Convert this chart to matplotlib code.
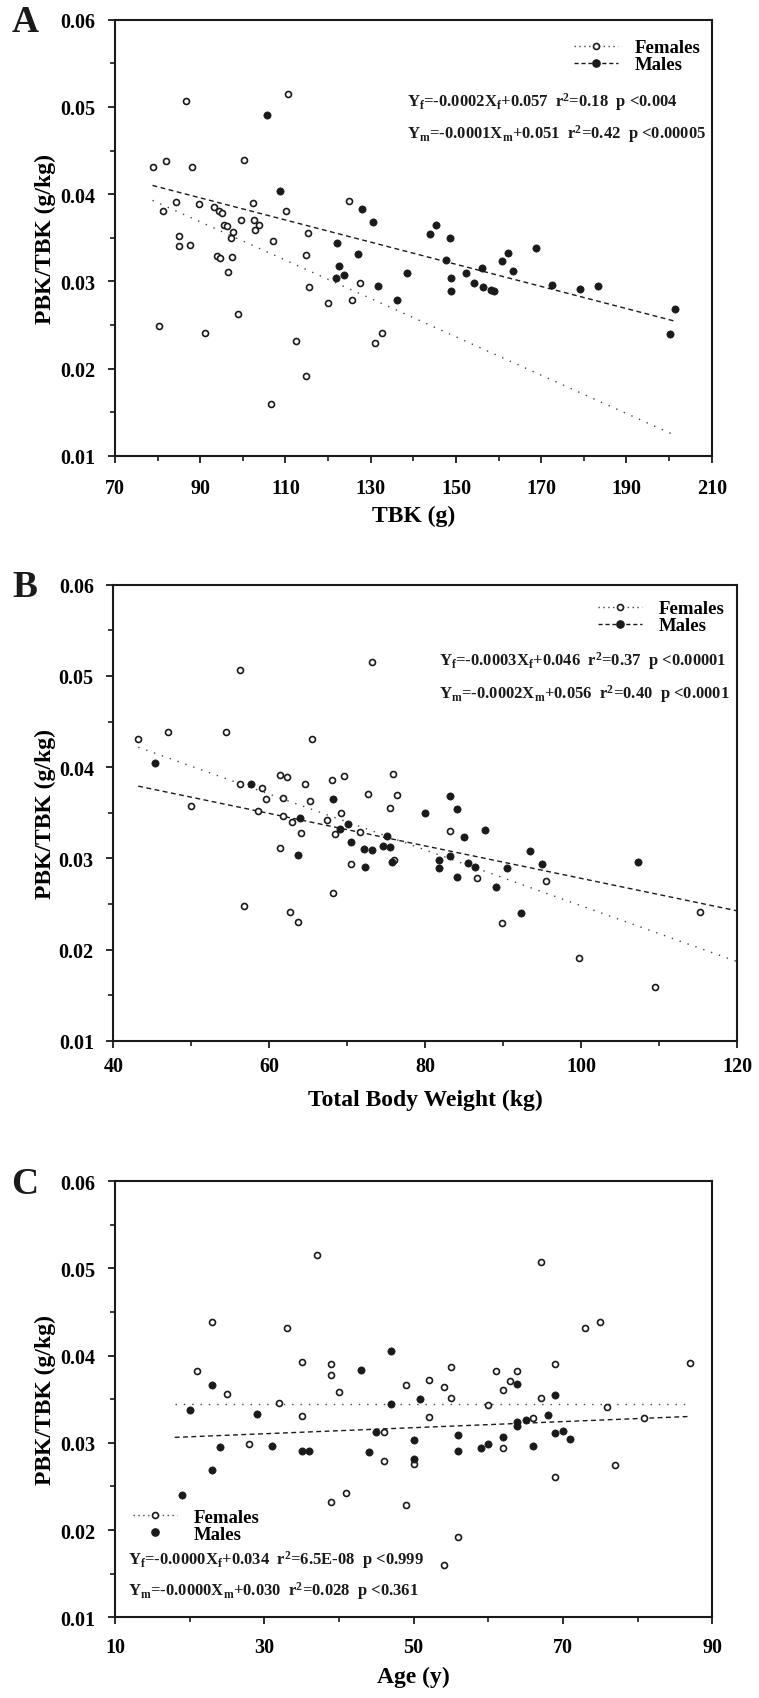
import numpy as np
import matplotlib
matplotlib.use('Agg')
import matplotlib.pyplot as plt
from matplotlib.lines import Line2D
from matplotlib.ticker import MultipleLocator

plt.rcParams['font.family'] = ['Liberation Serif', 'DejaVu Serif']
plt.rcParams['font.weight'] = 'bold'
plt.rcParams['mathtext.fontset'] = 'custom'
plt.rcParams['mathtext.rm'] = 'Liberation Serif:bold'
plt.rcParams['mathtext.bf'] = 'Liberation Serif:bold'
plt.rcParams['mathtext.it'] = 'Liberation Serif:bold'

# ---- panel A: PBK/TBK vs TBK ----
a_fem_x = [78.8, 82.0, 88.0, 86.7, 110.6, 100.2, 84.2, 81.3, 89.7, 93.2, 94.4, 95.2, 102.3, 110.1, 124.9,
           99.6, 95.5, 96.2, 97.8, 97.1, 102.7, 103.9, 102.8, 85.1, 85.1, 87.5, 107.0, 115.3, 94.0, 94.6,
           97.4, 114.9, 96.4, 115.6, 119.9, 125.5, 127.5, 80.3, 91.1, 98.9, 112.5, 131.0, 132.7, 114.7, 106.5]
a_fem_y = [0.0431, 0.0438, 0.0431, 0.0507, 0.0515, 0.0439, 0.0391, 0.0381, 0.0389, 0.0385, 0.0381, 0.0378,
           0.0390, 0.0381, 0.0392, 0.0370, 0.0365, 0.0363, 0.0357, 0.0350, 0.0370, 0.0365, 0.0359, 0.0352,
           0.0340, 0.0342, 0.0346, 0.0355, 0.0329, 0.0327, 0.0328, 0.0330, 0.0311, 0.0294, 0.0275, 0.0278,
           0.0298, 0.0249, 0.0241, 0.0262, 0.0231, 0.0229, 0.0241, 0.0191, 0.0159]
a_male_x = [105.7, 108.7, 128.0, 130.5, 122.1, 126.9, 122.6, 121.8, 123.8, 131.8, 136.1, 145.3, 143.9, 148.7,
            168.7, 162.2, 160.9, 163.4, 147.7, 156.0, 152.4, 148.8, 138.5, 154.2, 156.4, 158.2, 158.9, 148.8,
            172.6, 179.1, 183.3, 201.3, 200.3]
a_male_y = [0.0491, 0.0404, 0.0383, 0.0368, 0.0344, 0.0331, 0.0318, 0.0304, 0.0307, 0.0295, 0.0279, 0.0365,
            0.0354, 0.0350, 0.0338, 0.0333, 0.0323, 0.0312, 0.0325, 0.0315, 0.0309, 0.0304, 0.0310, 0.0298,
            0.0293, 0.0290, 0.0289, 0.0289, 0.0296, 0.0291, 0.0295, 0.0268, 0.0240]
a_fit_fem = [-0.0002198, 0.0566]
a_fit_male = [-0.000127, 0.0510]
a_fit_range = [78.8, 201.3]
a_xticks = [70, 90, 110, 130, 150, 170, 190, 210]
a_eq = [r'Y$_\mathbf{f}$=-0.0002X$_\mathbf{f}$+0.057  r$^\mathbf{2}$=0.18  p <0.004',
        r'Y$_\mathbf{m}$=-0.0001X$_\mathbf{m}$+0.051  r$^\mathbf{2}$=0.42  p <0.00005']

# ---- panel B: PBK/TBK vs total body weight ----
b_fem_x = [56.3, 73.2, 43.2, 47.0, 54.5, 65.5, 61.4, 62.3, 56.3, 59.1, 64.6, 68.1, 69.6, 75.9, 59.6, 61.8,
           65.2, 72.7, 76.4, 75.5, 50.0, 58.6, 61.8, 62.9, 67.4, 69.2, 64.1, 68.5, 71.7, 61.4, 70.5, 76.0,
           68.2, 56.8, 62.7, 63.7, 86.6, 95.5, 89.9, 99.7, 109.5, 115.2, 83.2]
b_fem_y = [0.0507, 0.0515, 0.0431, 0.0438, 0.0438, 0.0431, 0.0391, 0.0389, 0.0381, 0.0377, 0.0381, 0.0386,
           0.0390, 0.0392, 0.0365, 0.0366, 0.0363, 0.0371, 0.0369, 0.0355, 0.0357, 0.0352, 0.0346, 0.0340,
           0.0342, 0.0350, 0.0328, 0.0327, 0.0329, 0.0311, 0.0294, 0.0298, 0.0262, 0.0248, 0.0241, 0.0230,
           0.0278, 0.0275, 0.0229, 0.0191, 0.0159, 0.0241, 0.0330]
b_male_x = [45.4, 57.7, 68.2, 64.0, 70.1, 69.1, 75.1, 70.5, 72.2, 73.2, 74.6, 75.5, 63.7, 72.3, 75.7, 83.2,
            84.1, 80.0, 87.7, 85.0, 93.5, 81.8, 83.2, 81.8, 85.5, 86.4, 84.1, 90.5, 95.0, 89.1, 92.3, 107.3]
b_male_y = [0.0404, 0.0381, 0.0365, 0.0344, 0.0338, 0.0332, 0.0325, 0.0318, 0.0310, 0.0309, 0.0314, 0.0312,
            0.0304, 0.0290, 0.0296, 0.0368, 0.0354, 0.0350, 0.0331, 0.0323, 0.0308, 0.0298, 0.0302, 0.0289,
            0.0295, 0.0290, 0.0279, 0.0289, 0.0294, 0.0268, 0.0240, 0.0296]
b_fit_fem = [-0.000306, 0.0554]
b_fit_male = [-0.000178, 0.0456]
b_fit_range = [43.2, 120.0]
b_xticks = [40, 60, 80, 100, 120]
b_eq = [r'Y$_\mathbf{f}$=-0.0003X$_\mathbf{f}$+0.046  r$^\mathbf{2}$=0.37  p <0.00001',
        r'Y$_\mathbf{m}$=-0.0002X$_\mathbf{m}$+0.056  r$^\mathbf{2}$=0.40  p <0.0001']

# ---- panel C: PBK/TBK vs age ----
c_fem_x = [37.0, 67.0, 23.0, 33.0, 21.0, 35.0, 38.9, 38.9, 40.0, 49.0, 25.0, 32.0, 35.0, 46.0, 27.9, 46.0,
           50.0, 38.9, 41.0, 49.0, 73.0, 75.0, 87.0, 55.0, 68.9, 61.0, 63.9, 52.0, 62.9, 54.0, 62.0, 55.0,
           67.0, 60.0, 75.9, 52.0, 66.0, 80.9, 62.0, 77.0, 68.9, 55.9, 54.0]
c_fem_y = [0.0516, 0.0508, 0.0439, 0.0432, 0.0382, 0.0393, 0.0391, 0.0378, 0.0358, 0.0366, 0.0356, 0.0346,
           0.0331, 0.0312, 0.0299, 0.0279, 0.0276, 0.0232, 0.0242, 0.0229, 0.0432, 0.0439, 0.0392, 0.0387,
           0.0391, 0.0382, 0.0382, 0.0372, 0.0371, 0.0364, 0.0361, 0.0351, 0.0352, 0.0343, 0.0341, 0.0330,
           0.0328, 0.0329, 0.0294, 0.0275, 0.0261, 0.0192, 0.0160]
c_male_x = [47.0, 43.0, 23.0, 47.0, 20.0, 29.0, 45.0, 50.0, 24.0, 31.0, 35.0, 36.0, 44.0, 50.0, 23.0, 19.0,
            63.9, 50.9, 68.9, 68.0, 63.9, 65.0, 63.9, 56.0, 62.0, 68.9, 70.0, 71.0, 60.0, 59.0, 56.0, 66.0]
c_male_y = [0.0405, 0.0383, 0.0366, 0.0344, 0.0338, 0.0333, 0.0312, 0.0303, 0.0295, 0.0296, 0.0291, 0.0291,
            0.0290, 0.0281, 0.0269, 0.0240, 0.0368, 0.0350, 0.0355, 0.0332, 0.0324, 0.0326, 0.0319, 0.0309,
            0.0307, 0.0311, 0.0314, 0.0304, 0.0299, 0.0294, 0.0291, 0.0296]
c_fit_fem = [0.0, 0.0344]
c_fit_male = [0.0000348, 0.0300]
c_fit_range = [18.0, 87.0]
c_xticks = [10, 30, 50, 70, 90]
c_eq = [r'Y$_\mathbf{f}$=-0.0000X$_\mathbf{f}$+0.034  r$^\mathbf{2}$=6.5E-08  p <0.999',
        r'Y$_\mathbf{m}$=-0.0000X$_\mathbf{m}$+0.030  r$^\mathbf{2}$=0.028  p <0.361']

y_ticks = [0.01, 0.02, 0.03, 0.04, 0.05, 0.06]
y_ticklabels = ['0.01', '0.02', '0.03', '0.04', '0.05', '0.06']
legend_labels = ['Females', 'Males']

W, H = 759, 1699
INK = '#1a1a1a'
fig = plt.figure(figsize=(W / 100, H / 100), dpi=100)


def fx(x, y):
    # pixel position -> figure fraction
    return x / W, 1 - y / H


def make_axes(left, top, right, bottom):
    return fig.add_axes([left / W, 1 - bottom / H, (right - left) / W, (bottom - top) / H])


def draw_panel(ax, fem_x, fem_y, male_x, male_y, fit_f, fit_m, fit_range,
               xticks, xlabel, xlabel_y, ylabel_x, xpad):
    lx = np.linspace(fit_range[0], fit_range[1], 50)
    ax.plot(lx, np.polyval(fit_f, lx), ls=(0, (1, 5)), lw=1.0, color='#444444', zorder=2)
    ax.plot(lx, np.polyval(fit_m, lx), ls=(0, (3.5, 2.5)), lw=1.0, color=INK, zorder=2)
    ax.plot(fem_x, fem_y, 'o', ls='none', ms=4.3, mfc='white', mec=INK, mew=1.2, zorder=3)
    ax.plot(male_x, male_y, 'o', ls='none', ms=5.2, mfc=INK, mec=INK, mew=0.5, zorder=4)

    ax.set_xlim(xticks[0], xticks[-1])
    ax.set_ylim(0.01, 0.06)
    ax.set_xticks(xticks)
    step = xticks[1] - xticks[0]
    ax.xaxis.set_minor_locator(MultipleLocator(step / 2))
    ax.set_yticks(y_ticks)
    ax.set_yticklabels(y_ticklabels)
    ax.yaxis.set_minor_locator(MultipleLocator(0.005))
    for s in ax.spines.values():
        s.set_linewidth(1.5)
        s.set_color(INK)
    ax.tick_params(which='major', direction='out', length=5, width=1.3, color=INK, labelsize=14.5)
    ax.tick_params(which='minor', direction='out', length=3.5, width=1.2, color=INK)
    ax.tick_params(axis='x', which='major', pad=xpad)
    ax.tick_params(axis='y', which='major', pad=9)
    ax.set_xlabel(xlabel, fontsize=17, fontweight='bold')
    ax.set_ylabel('PBK/TBK (g/kg)', fontsize=17, fontweight='bold')
    ax.xaxis.set_label_coords(0.5, xlabel_y)
    ax.yaxis.set_label_coords(ylabel_x, 0.5)


def handles(male_line=True):
    hf = Line2D([], [], ls=(0, (1, 2.5)), lw=1.0, color='#444444', marker='o', ms=4.3,
                mfc='white', mec=INK, mew=1.2)
    hm = Line2D([], [], ls=(0, (3, 2)) if male_line else 'none', lw=1.0, color=INK, marker='o',
                ms=5.2, mfc=INK, mec=INK)
    return [hf, hm]


def add_legend(ax, hs, left, top):
    ax.legend(hs, legend_labels, loc='upper left', bbox_to_anchor=fx(left, top),
              bbox_transform=fig.transFigure, frameon=False, fontsize=13.5, handlelength=2.35,
              handletextpad=0.9, borderpad=0, borderaxespad=0, labelspacing=0.0)


EQ_SIZE = 12

# Panel A
axA = make_axes(115, 20.7, 711.7, 456.7)
draw_panel(axA, a_fem_x, a_fem_y, a_male_x, a_male_y, a_fit_fem, a_fit_male, a_fit_range,
           a_xticks, 'TBK (g)', -0.113, -0.099, 11)
add_legend(axA, handles(), 574, 40.0)
fig.text(*fx(406.7, 106.7), a_eq[0], fontsize=EQ_SIZE, fontweight='bold', va='baseline', color=INK)
fig.text(*fx(406.7, 138.3), a_eq[1], fontsize=EQ_SIZE, fontweight='bold', va='baseline', color=INK)
fig.text(*fx(25, 22), 'A', fontsize=27, fontweight='bold', ha='center', va='center', color=INK)

# Panel B
axB = make_axes(113.3, 585.7, 737, 1041.7)
draw_panel(axB, b_fem_x, b_fem_y, b_male_x, b_male_y, b_fit_fem, b_fit_male, b_fit_range,
           b_xticks, 'Total Body Weight (kg)', -0.105, -0.092, 6)
add_legend(axB, handles(), 598, 601.0)
fig.text(*fx(439.3, 665.5), b_eq[0], fontsize=EQ_SIZE, fontweight='bold', va='baseline', color=INK)
fig.text(*fx(439.3, 698.3), b_eq[1], fontsize=EQ_SIZE, fontweight='bold', va='baseline', color=INK)
fig.text(*fx(25, 588), 'B', fontsize=27, fontweight='bold', ha='center', va='center', color=INK)

# Panel C
axC = make_axes(115, 1182.3, 712.3, 1618.2)
draw_panel(axC, c_fem_x, c_fem_y, c_male_x, c_male_y, c_fit_fem, c_fit_male, c_fit_range,
           c_xticks, 'Age (y)', -0.112, -0.099, 9)
add_legend(axC, handles(male_line=False), 133, 1509.5)
fig.text(*fx(128, 1564.5), c_eq[0], fontsize=EQ_SIZE, fontweight='bold', va='baseline', color=INK)
fig.text(*fx(128, 1595.5), c_eq[1], fontsize=EQ_SIZE, fontweight='bold', va='baseline', color=INK)
fig.text(*fx(25, 1184), 'C', fontsize=27, fontweight='bold', ha='center', va='center', color=INK)

fig.savefig('out.png', dpi=100, facecolor='white')
